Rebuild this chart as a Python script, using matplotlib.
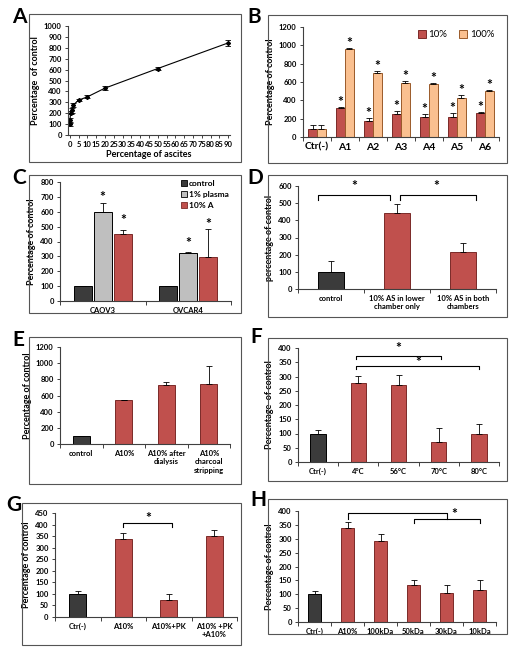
import matplotlib
matplotlib.use("Agg")
import matplotlib.pyplot as plt
from matplotlib.patches import Rectangle
import numpy as np

plt.rcParams['font.family'] = ['Lato', 'DejaVu Sans']

# ---- data ----
# A
a_x = [0, 0.1, 0.5, 1, 2, 5, 10, 20, 50, 90]
a_y = [100, 135, 205, 225, 275, 320, 350, 430, 610, 845]
a_err = [15, 25, 15, 20, 15, 10, 15, 20, 10, 25]
# B
b_cats = ["Ctr(-)", "A1", "A2", "A3", "A4", "A5", "A6"]
b_10 = [85, 320, 180, 255, 220, 220, 260]
b_10_err = [50, 10, 30, 25, 30, 45, 10]
b_100 = [85, 955, 700, 585, 575, 430, 500]
b_100_err = [50, 20, 20, 30, 15, 25, 15]
# C
c_cats = ["CAOV3", "OVCAR4"]
c_ctrl = [100, 100]
c_plasma = [600, 320]
c_plasma_err = [60, 8]
c_asc = [450, 298]
c_asc_err = [30, 185]
# D
d_cats = ["control", "10% AS in lower\nchamber only", "10% AS in both\nchambers"]
d_vals = [100, 440, 213]
d_err = [65, 58, 57]
# E
e_cats = ["control", "A10%", "A10% after\ndialysis", "A10%\ncharcoal\nstripping"]
e_vals = [100, 545, 725, 748]
e_err = [0, 5, 45, 215]
# F
f_cats = ["Ctr(-)", "4°C", "56°C", "70°C", "80°C"]
f_vals = [100, 278, 270, 70, 97]
f_err = [12, 25, 35, 48, 35]
# G
g_cats = ["Ctr(-)", "A10%", "A10%+PK", "A10% +PK\n+A10%"]
g_vals = [100, 338, 72, 352]
g_err = [12, 25, 28, 25]
# H
h_cats = ["Ctr(-)", "A10%", "100kDa", "50kDa", "30kDa", "10kDa"]
h_vals = [100, 337, 293, 135, 106, 117]
h_err = [12, 25, 25, 15, 27, 33]

RED = '#C0504D'
REDE = '#7a2a28'
DARK = '#3b3b3b'
GRAY = '#BFBFBF'
ORANGE = '#FAC090'
ORE = '#9a5a2a'
AXC = '#404040'

W, H = 512, 654
fig = plt.figure(figsize=(W / 100, H / 100), dpi=100)


def px_axes(l, t, r, b):
    return fig.add_axes([l / W, 1 - b / H, (r - l) / W, (b - t) / H])


def box(l, t, r, b, letter, lx, ly):
    fig.add_artist(Rectangle((l / W, 1 - b / H), (r - l) / W, (b - t) / H,
                             transform=fig.transFigure, fill=False,
                             edgecolor='#555555', lw=0.8))
    fig.text(lx / W, 1 - ly / H, letter, fontsize=15, fontweight='bold',
             ha='left', va='top')


def style(ax, ylim, yticks, ylabel, fs=5.5):
    ax.set_ylim(*ylim)
    ax.set_yticks(yticks)
    for s in ['top', 'right']:
        ax.spines[s].set_visible(False)
    for s in ['left', 'bottom']:
        ax.spines[s].set_color(AXC)
        ax.spines[s].set_linewidth(0.8)
    ax.tick_params(axis='y', labelsize=fs, length=2.5, width=0.7, color=AXC, pad=2)
    for t in ax.get_yticklabels():
        t.set_fontweight('bold')
    ax.set_ylabel(ylabel, fontsize=6.5, fontweight='bold', labelpad=3)


def cat_x(ax, cats, fs=5.5):
    n = len(cats)
    ax.set_xlim(-0.5, n - 0.5)
    ax.set_xticks(range(n))
    ax.set_xticklabels(cats, fontsize=fs, fontweight='bold', linespacing=1.3)
    ax.tick_params(axis='x', which='major', length=0, pad=4)
    ax.set_xticks(np.arange(-0.5, n, 1.0), minor=True)
    ax.tick_params(axis='x', which='minor', length=3, width=0.7, color=AXC,
                   direction='out')


def bars(ax, x, vals, err, colors, edge, width):
    ax.bar(x, vals, width, color=colors, edgecolor=edge, linewidth=0.7, zorder=2)
    ax.errorbar(x, vals, yerr=[np.zeros(len(vals)), err], fmt='none',
                ecolor='black', elinewidth=0.6, capsize=2, capthick=0.6, zorder=3)


def star(ax, x, y, fs=10):
    ax.text(x, y, '*', ha='center', va='center', fontsize=fs, fontweight='bold')


def bracket(ax, x0, x1, y, drop, lw=0.8):
    ax.plot([x0, x0, x1, x1], [y - drop, y, y, y - drop], color='black',
            lw=lw, clip_on=False)


# ---- A ----
box(29, 14, 241, 162, 'A', 12, 7)
ax = px_axes(68, 26, 230, 135)
ax.errorbar(a_x, a_y, yerr=a_err, fmt='-D', color='black', ms=2, lw=0.8,
            elinewidth=0.6, capsize=2, capthick=0.6)
style(ax, (0, 1000), range(0, 1001, 100), 'Percentage  of control')
ax.set_xlim(-1, 91)
ax.set_xticks(range(0, 91, 5))
ax.tick_params(axis='x', labelsize=5.5, length=2, width=0.7, color=AXC, pad=2)
for t in ax.get_xticklabels():
    t.set_fontweight('bold')
ax.set_xlabel('Percentage of ascites', fontsize=6.5, fontweight='bold', labelpad=2)

# ---- B ----
box(268, 15, 507, 163, 'B', 247, 7)
ax = px_axes(303, 27, 499, 137)
xb = np.arange(len(b_cats))
bw = 0.32
bars(ax, xb - bw / 2, b_10, b_10_err, RED, REDE, bw)
bars(ax, xb + bw / 2, b_100, b_100_err, ORANGE, ORE, bw)
style(ax, (0, 1200), range(0, 1201, 200), 'Percentage of control')
cat_x(ax, b_cats, fs=7.5)
for i in range(1, len(b_cats)):
    star(ax, xb[i] - bw / 2, b_10[i] + b_10_err[i] + 55)
    star(ax, xb[i] + bw / 2, b_100[i] + b_100_err[i] + 55)
h1 = Rectangle((0, 0), 1, 1, fc=RED, ec=REDE, lw=0.7)
h2 = Rectangle((0, 0), 1, 1, fc=ORANGE, ec=ORE, lw=0.7)
ax.legend([h1, h2], ['10%', '100%'], loc='upper right', ncol=2, frameon=False,
          fontsize=7, handlelength=0.8, handleheight=0.8, handletextpad=0.3,
          columnspacing=1.2, bbox_to_anchor=(1.02, 1.05))

# ---- C ----
box(29, 175, 241, 313, 'C', 12, 168)
ax = px_axes(60, 182, 231, 301)
xc = np.arange(len(c_cats))
cw = 0.21
sp = 0.235
bars(ax, xc - sp, c_ctrl, [0, 0], DARK, 'black', cw)
bars(ax, xc, c_plasma, c_plasma_err, GRAY, 'black', cw)
bars(ax, xc + sp, c_asc, c_asc_err, RED, REDE, cw)
style(ax, (0, 800), range(0, 801, 100), 'Percentage of control')
cat_x(ax, c_cats)
star(ax, xc[0], c_plasma[0] + c_plasma_err[0] + 40)
star(ax, xc[0] + sp, c_asc[0] + c_asc_err[0] + 65)
star(ax, xc[1], c_plasma[1] + c_plasma_err[1] + 60)
star(ax, xc[1] + sp, c_asc[1] + c_asc_err[1] + 35)
hc = [Rectangle((0, 0), 1, 1, fc=DARK, ec='black', lw=0.6),
      Rectangle((0, 0), 1, 1, fc=GRAY, ec='black', lw=0.6),
      Rectangle((0, 0), 1, 1, fc=RED, ec=REDE, lw=0.6)]
leg = ax.legend(hc, ['control', '1% plasma', '10% A'], loc='upper right',
                frameon=False, fontsize=6, handlelength=0.7, handleheight=0.7,
                handletextpad=0.2, labelspacing=0.5, bbox_to_anchor=(1.03, 1.08))
for t in leg.get_texts():
    t.set_fontweight('bold')

# ---- D ----
box(268, 175, 507, 317, 'D', 247, 168)
ax = px_axes(298, 186, 496, 289)
xd = np.arange(len(d_cats))
bars(ax, xd, d_vals, d_err, [DARK, RED, RED], ['black', REDE, REDE], 0.4)
style(ax, (0, 600), range(0, 601, 100), 'percentage of control')
cat_x(ax, d_cats)
bracket(ax, -0.2, 0.9, 550, 30)
bracket(ax, 1.05, 2.2, 550, 30)
star(ax, 0.35, 600)
star(ax, 1.6, 600)

# ---- E ----
box(29, 337, 241, 484, 'E', 12, 330)
ax = px_axes(60, 347, 230, 444)
xe = np.arange(len(e_cats))
bars(ax, xe, e_vals, e_err, [DARK, RED, RED, RED], ['black', REDE, REDE, REDE], 0.4)
style(ax, (0, 1200), range(0, 1201, 200), 'Percentage of control')
cat_x(ax, e_cats)

# ---- F ----
box(268, 338, 507, 481, 'F', 250, 327)
ax = px_axes(298, 348, 499, 462)
xf = np.arange(len(f_cats))
bars(ax, xf, f_vals, f_err, [DARK] + [RED] * 4, ['black'] + [REDE] * 4, 0.38)
style(ax, (0, 400), range(0, 401, 50), 'Percentage  of control')
cat_x(ax, f_cats)
bracket(ax, 0.95, 3.05, 373, 10)
bracket(ax, 0.95, 4.0, 336, 10)
star(ax, 2.0, 400)
star(ax, 2.5, 352)

# ---- G ----
box(22, 503, 241, 645, 'G', 6, 495)
ax = px_axes(55, 513, 237, 617)
xg = np.arange(len(g_cats))
bars(ax, xg, g_vals, g_err, [DARK, RED, RED, RED], ['black', REDE, REDE, REDE], 0.37)
style(ax, (0, 450), range(0, 451, 50), 'Percentage of control')
cat_x(ax, g_cats)
bracket(ax, 1.0, 2.07, 405, 15)
star(ax, 1.55, 427)

# ---- H ----
box(268, 499, 507, 634, 'H', 250, 490)
ax = px_axes(298, 511, 496, 622)
xh = np.arange(len(h_cats))
bars(ax, xh, h_vals, h_err, [DARK] + [RED] * 5, ['black'] + [REDE] * 5, 0.38)
style(ax, (0, 400), range(0, 401, 50), 'Percentage of control')
cat_x(ax, h_cats)
bracket(ax, 1.0, 4.0, 394, 23)
bracket(ax, 3.0, 5.0, 371, 15)
star(ax, 4.25, 390)

fig.savefig('out.png', dpi=100)
